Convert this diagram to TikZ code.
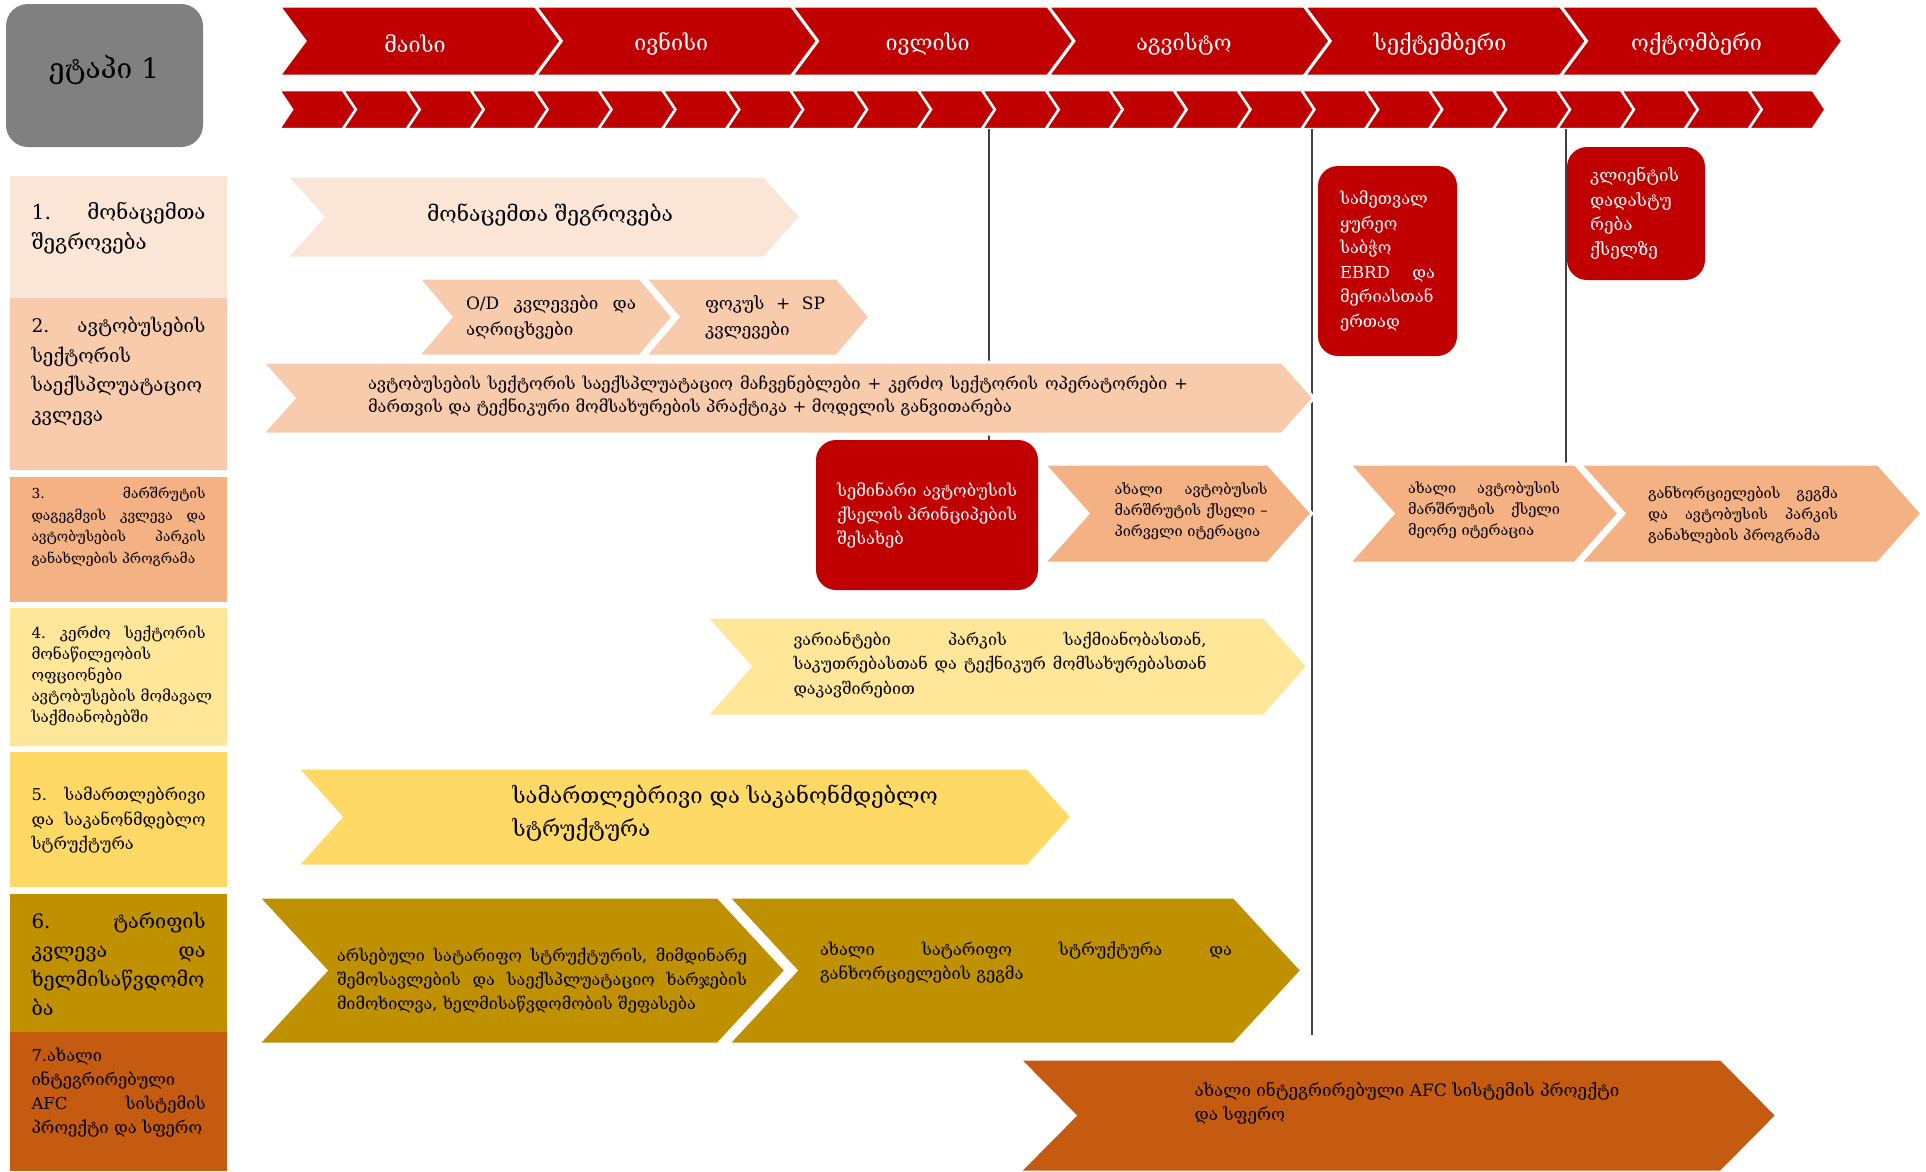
\documentclass[tikz,border=0pt]{standalone}
\usepackage{fontspec}
\setmainfont{DejaVu Serif}

\definecolor{tlred}{HTML}{C00000}
\definecolor{stagegray}{HTML}{808080}
\definecolor{peachA}{HTML}{FBE5D6}
\definecolor{peachB}{HTML}{F8CBAD}
\definecolor{salmon}{HTML}{F4B183}
\definecolor{yellowA}{HTML}{FFE699}
\definecolor{yellowB}{HTML}{FFD966}
\definecolor{gold}{HTML}{BF9000}
\definecolor{rust}{HTML}{C55A11}

\newcommand\fs[2]{\fontsize{#1}{#2}\selectfont}
% justified line, words split by \hfill
\newcommand\jl[1]{\leavevmode\hbox to \hsize{#1}}
% chevron: style, left, top, right, bottom, depth
\newcommand\chev[6]{%
  \path[#1] (#2,#3) -- ({#4-#6},#3) -- (#4,{(#3+#5)/2}) -- ({#4-#6},#5)
    -- (#2,#5) -- ({#2+#6},{(#3+#5)/2}) -- cycle;}

\tikzset{
  month/.style={fill=tlred, draw=white, line width=3pt},
  week/.style={fill=tlred, draw=white, line width=2.5pt},
  band/.style={draw=white, line width=3pt},
  monthtxt/.style={text=white, font=\fs{21.5}{26}},
  stage/.style={fill=stagegray, rounded corners=22pt, minimum width=197pt, minimum height=143pt},
  cattxt/.style={text width=174pt, inner sep=0pt, align=left},
  txt/.style={inner sep=0pt, align=left},
  redbox/.style={fill=tlred, rounded corners=20pt, text=white, align=left},
  vline/.style={draw=black!75, line width=2.5pt},
}

\begin{document}
\begin{tikzpicture}[x=1pt, y=-1pt]
\useasboundingbox (0,0) rectangle (1926,1171);

% stage and time line
\node[stage] (stage) at (104.5,75.5) {};
\node[txt, font=\fs{28}{34}] (stagetxt) at (104,70) {ეტაპი 1};
\foreach \mon [count=\i from 0] in {მაისი,ივნისი,ივლისი,აგვისტო,სექტემბერი,ოქტომბერი} {
  \pgfmathsetmacro\xl{279+\i*256.3}
  \chev{month}{\xl}{6}{\xl+282.3}{76}{26}
  \node[monthtxt] (mon\i) at ({\xl+136},44) {\mon};
}
\foreach \i in {0,...,23} {
  \pgfmathsetmacro\xl{279+\i*63.9}
  \chev{week}{\xl}{90}{\xl+76.9}{129}{13}
}

% milestone lines
\coordinate (t1) at (989,129);
\coordinate (t2) at (1312,129);
\coordinate (t3) at (1566,129);
\coordinate (e1) at (989,440);
\coordinate (e2) at (1312,1035);
\coordinate (e3) at (1566,464);
\draw[vline] (t1) -- (e1);
\draw[vline] (t2) -- (e2);
\draw[vline] (t3) -- (e3);

% categories
\fill[peachA] (10,176) rectangle (227,298);
\fill[peachB] (10,298) rectangle (227,470);
\fill[salmon] (10,477) rectangle (227,602);
\fill[yellowA] (10,608) rectangle (227,746);
\fill[yellowB] (10,752) rectangle (227,887);
\fill[gold] (10,894) rectangle (227,1032);
\fill[rust] (10,1032) rectangle (227,1171);
\node[cattxt, font=\fs{20.5}{30}] (cat1) at (118.5,228)
  {\jl{1.\hfill მონაცემთა}\\შეგროვება};
\node[cattxt, font=\fs{18.7}{29.5}] (cat2) at (118.5,371.5)
  {\jl{2.\hfill ავტობუსების}\\სექტორის\\საექსპლუატაციო\\კვლევა};
\node[cattxt, font=\fs{13.8}{21.5}] (cat3) at (118.5,527)
  {\jl{3.\hfill მარშრუტის}\\\jl{დაგეგმვის\hfill კვლევა\hfill და}\\\jl{ავტობუსების\hfill პარკის}\\განახლების პროგრამა};
\node[cattxt, font=\fs{15.2}{21}] (cat4) at (118.5,676)
  {\jl{4.\hfill კერძო\hfill სექტორის}\\მონაწილეობის\\ოფციონები\\\mbox{ავტობუსების მომავალ}\\საქმიანობებში};
\node[cattxt, font=\fs{16.3}{24.5}] (cat5) at (118.5,820.5)
  {\jl{5.\hfill სამართლებრივი}\\\jl{და\hfill საკანონმდებლო}\\სტრუქტურა};
\node[cattxt, font=\fs{19.8}{29}] (cat6) at (118.5,964)
  {\jl{6.\hfill ტარიფის}\\\jl{კვლევა\hfill და}\\ხელმისაწვდომო\\ბა};
\node[cattxt, font=\fs{16.5}{24}] (cat7) at (118.5,1092.5)
  {7.ახალი\\ინტეგრირებული\\\jl{AFC\hfill სისტემის}\\\mbox{პროექტი და სფერო}};

% 1. data
\chev{band, fill=peachA}{286}{176}{801}{258}{37}
\node[txt, font=\fs{21}{30}] (datatxt) at (550,215) {მონაცემთა შეგროვება};

% 2. operations
\chev{band, fill=peachB}{418}{278}{673}{356}{33}
\node[txt, text width=170pt, font=\fs{17}{26}] (odtxt) at (551,317)
  {\jl{O/D\hfill კვლევები\hfill და}\\აღრიცხვები};
\chev{band, fill=peachB}{645}{278}{870}{356}{33}
\node[txt, text width=120pt, font=\fs{17}{26}] (focustxt) at (765,317)
  {\jl{ფოკუს\hfill +\hfill SP}\\კვლევები};
\chev{band, fill=peachB}{262}{362}{1314}{434}{32}
\node[txt, text width=820pt, font=\fs{16.5}{23.5}] (opertxt) at (778,396)
  {\jl{ავტობუსების\hfill სექტორის\hfill საექსპლუატაციო\hfill მაჩვენებლები\hfill +\hfill კერძო\hfill სექტორის\hfill ოპერატორები\hfill +}\\მართვის და ტექნიკური მომსახურების პრაქტიკა + მოდელის განვითარება};

% 3. network
\node[redbox, minimum width=222pt, minimum height=150pt, text width=180pt, font=\fs{16.5}{24}] (seminar) at (927,515)
  {\jl{სემინარი\hfill ავტობუსის}\\\jl{ქსელის\hfill პრინციპების}\\შესახებ};
\chev{band, fill=salmon}{1044}{464}{1312}{563}{44}
\node[txt, text width=153pt, font=\fs{14.5}{21}] (net1txt) at (1191,511)
  {\jl{ახალი\hfill ავტობუსის}\\\jl{მარშრუტის\hfill ქსელი\hfill –}\\პირველი იტერაცია};
\chev{band, fill=salmon}{1349}{464}{1619}{563}{44}
\node[txt, text width=152pt, font=\fs{14.5}{21}] (net2txt) at (1484,510)
  {\jl{ახალი\hfill ავტობუსის}\\\jl{მარშრუტის\hfill ქსელი}\\მეორე იტერაცია};
\chev{band, fill=salmon}{1580}{464}{1922}{563}{44}
\node[txt, text width=190pt, font=\fs{14.5}{21}] (plantxt) at (1743,515)
  {\jl{განხორციელების\hfill გეგმა}\\\jl{და\hfill ავტობუსის\hfill პარკის}\\განახლების პროგრამა};
\node[redbox, minimum width=139pt, minimum height=190pt, text width=95pt, font=\fs{16.5}{24.5}] (board) at (1387.5,261)
  {სამეთვალ\\ყურეო\\საბჭო\\\jl{EBRD\hfill და}\\მერიასთან\\ერთად};
\node[redbox, minimum width=138pt, minimum height=133pt, text width=92pt, font=\fs{17}{24.5}] (client) at (1636,213.5)
  {კლიენტის\\დადასტუ\\რება\\ქსელზე};

% 4. private sector
\chev{band, fill=yellowA}{706}{617}{1308}{716}{44}
\node[txt, text width=413pt, font=\fs{16.1}{24.5}] (privtxt) at (1000,665)
  {\jl{ვარიანტები\hfill პარკის\hfill საქმიანობასთან,}\\\jl{საკუთრებასთან\hfill და\hfill ტექნიკურ\hfill მომსახურებასთან}\\დაკავშირებით};

% 5. legal
\chev{band, fill=yellowB}{297}{768}{1072}{866}{44}
\node[txt, font=\fs{22}{33}] (legaltxt) at (725,813)
  {სამართლებრივი და საკანონმდებლო\\სტრუქტურა};

% 6. tariff
\chev{band, fill=gold}{258}{897}{786}{1044}{68}
\node[txt, text width=410pt, font=\fs{16.2}{24}] (tarifftxt) at (542,981)
  {\jl{არსებული\hfill სატარიფო\hfill სტრუქტურის,\hfill მიმდინარე}\\\jl{შემოსავლების\hfill და\hfill საექსპლუატაციო\hfill ხარჯების}\\მიმოხილვა, ხელმისაწვდომობის შეფასება};
\chev{band, fill=gold}{728}{897}{1302}{1044}{68}
\node[txt, text width=412pt, font=\fs{16.5}{24}] (newtarifftxt) at (1026,962)
  {\jl{ახალი\hfill სატარიფო\hfill სტრუქტურა\hfill და}\\განხორციელების გეგმა};

% 7. AFC
\chev{band, fill=rust}{1019}{1059}{1777}{1172}{56}
\node[txt, font=\fs{17}{24.5}] (afctxt) at (1407,1103)
  {ახალი ინტეგრირებული AFC სისტემის პროექტი\\და სფერო};
\end{tikzpicture}
\end{document}
